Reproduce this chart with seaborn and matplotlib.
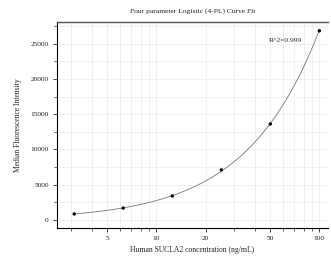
import numpy
import pandas
import matplotlib
matplotlib.use("Agg")
import matplotlib.pyplot as plt
from matplotlib.ticker import MultipleLocator, LogLocator, FixedLocator, FixedFormatter, NullFormatter
import seaborn

# standard concentrations (ng/mL) and measured MFI
concentration = [3.125, 6.25, 12.5, 25, 50, 100]
mfi = [850, 1680, 3400, 7100, 13620, 26850]

x_ticks = [5, 10, 20, 50, 100]
x_tick_labels = ["5", "10", "20", "50", "100"]

df = pandas.DataFrame({"conc": concentration, "mfi": mfi})

# smooth fitted curve (quadratic in log-log space)
coef = numpy.polyfit(numpy.log(df["conc"]), numpy.log(df["mfi"]), 2)
xs = numpy.logspace(numpy.log10(3.125), numpy.log10(100), 200)
fit = pandas.DataFrame({"conc": xs, "mfi": numpy.exp(numpy.polyval(coef, numpy.log(xs)))})

seaborn.set_style("white")
plt.rcParams["font.family"] = ["Liberation Serif", "DejaVu Serif"]

fig = plt.figure(figsize=(3.31, 2.64), dpi=100)
ax = fig.add_axes([57 / 331, 1 - 228 / 264, 271 / 331, 206 / 264])

seaborn.lineplot(data=fit, x="conc", y="mfi", ax=ax, color="#777777", linewidth=0.6)
seaborn.scatterplot(data=df, x="conc", y="mfi", ax=ax, color="black", s=6, edgecolor="none", zorder=3)

ax.set_xscale("log")
ax.set_xlim(2.45, 113)
ax.set_ylim(-1150, 28100)

ax.xaxis.set_major_locator(FixedLocator(x_ticks))
ax.xaxis.set_major_formatter(FixedFormatter(x_tick_labels))
ax.xaxis.set_minor_locator(LogLocator(base=10, subs=numpy.arange(2, 10)))
ax.xaxis.set_minor_formatter(NullFormatter())
ax.yaxis.set_major_locator(MultipleLocator(5000))
ax.yaxis.set_minor_locator(MultipleLocator(2500))

ax.grid(True, which="both", color="#ececec", linewidth=0.5)
ax.set_axisbelow(True)

for side in ["left", "bottom"]:
    ax.spines[side].set_color("black")
    ax.spines[side].set_linewidth(0.8)
ax.spines["top"].set_color("#555555")
ax.spines["top"].set_linewidth(1.0)
ax.spines["right"].set_visible(False)

ax.tick_params(axis="both", which="major", direction="out", length=3, width=0.6,
               labelsize=5.3, bottom=True, left=True, pad=3, labelcolor="#222222")
ax.tick_params(axis="both", which="minor", direction="out", length=2, width=0.5,
               bottom=True, left=True)

ax.set_xlabel("Human SUCLA2 concentration (ng/mL)", fontsize=5.5, labelpad=3, color="#222222")
ax.set_ylabel("Median Fluorescence Intensity", fontsize=5.5, labelpad=6, color="#222222")
ax.set_title("Four parameter Logistic (4-PL) Curve Fit", fontsize=5.4, pad=7, color="#222222")

ax.text(0.78, 0.91, "R^2=0.999", transform=ax.transAxes, fontsize=5.4, va="center", color="#222222")

fig.savefig("out.png", dpi=100)
